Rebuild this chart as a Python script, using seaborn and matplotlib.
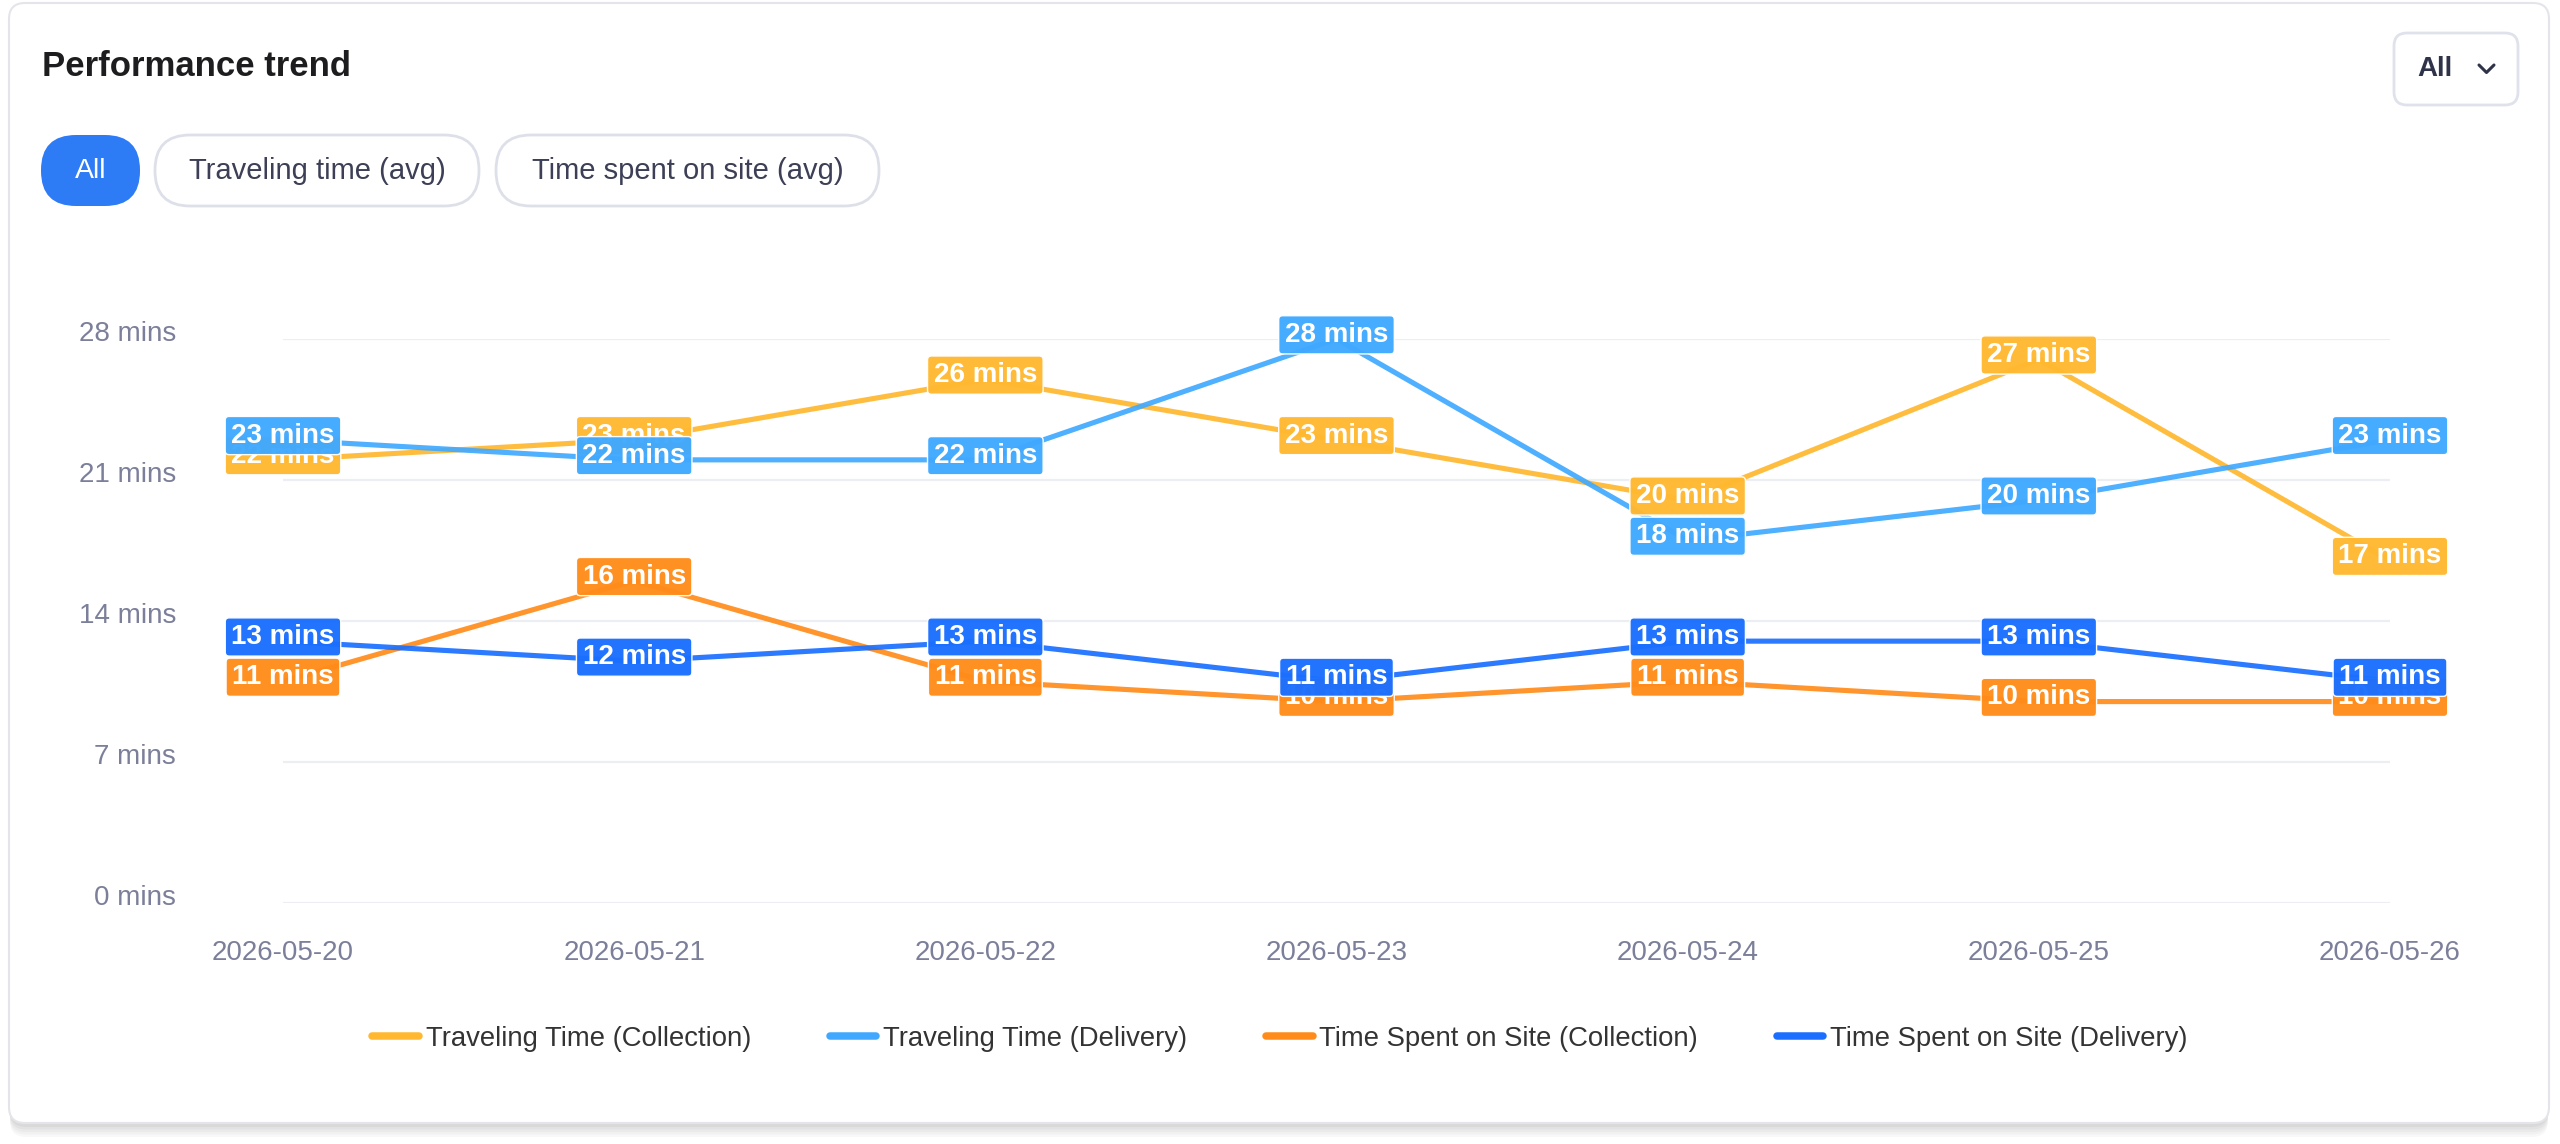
import matplotlib
matplotlib.use("Agg")
import matplotlib.pyplot as plt
import matplotlib.transforms as mtransforms
from matplotlib.patches import FancyBboxPatch
from matplotlib.lines import Line2D
import seaborn as sns
import pandas as pd

# ---------------- data ----------------
dates = ["2026-05-20", "2026-05-21", "2026-05-22", "2026-05-23",
         "2026-05-24", "2026-05-25", "2026-05-26"]
series_names = ["Traveling Time (Collection)", "Traveling Time (Delivery)",
                "Time Spent on Site (Collection)", "Time Spent on Site (Delivery)"]
traveling_collection = [22, 23, 26, 23, 20, 27, 17]
traveling_delivery = [23, 22, 22, 28, 18, 20, 23]
onsite_collection = [11, 16, 11, 10, 11, 10, 10]
onsite_delivery = [13, 12, 13, 11, 13, 13, 11]
y_ticks = [0, 7, 14, 21, 28]
title = "Performance trend"
pill_labels = ["All", "Traveling time (avg)", "Time spent on site (avg)"]
dropdown_label = "All"

series_values = [traveling_collection, traveling_delivery, onsite_collection, onsite_delivery]
colors = ["#FFB830", "#40A9FF", "#FF8C1A", "#1A6FFF"]

rows = []
for name, vals in zip(series_names, series_values):
    for d, v in zip(dates, vals):
        rows.append({"date": d, "value": v, "series": name})
df = pd.DataFrame(rows)

# ---------------- style ----------------
sns.set_theme(style="white")
plt.rcParams["font.family"] = ["Liberation Sans", "DejaVu Sans"]

W, H = 2560, 1144
fig = plt.figure(figsize=(W / 100, H / 100), dpi=100)
fig.patch.set_facecolor("white")

# background / card layer in pixel coordinates (y measured from top)
bg = fig.add_axes([0, 0, 1, 1], zorder=0)
bg.set_xlim(0, W)
bg.set_ylim(H, 0)
bg.axis("off")


def rbox(x0, y0, x1, y1, r, fc, ec="none", lw=0, z=1, alpha=1.0):
    p = FancyBboxPatch((x0 + r, y0 + r), (x1 - x0) - 2 * r, (y1 - y0) - 2 * r,
                       boxstyle=f"round,pad={r},rounding_size={r}",
                       fc=fc, ec=ec, lw=lw, zorder=z, alpha=alpha,
                       mutation_aspect=1)
    bg.add_patch(p)
    return p


# card shadow + card
for i, a in enumerate([0.05, 0.05, 0.06, 0.07, 0.08]):
    off = 14 - i * 2.5
    rbox(9 + 1, 3 + off, 2549 - 1, 1123 + off, 16, "#7a7a80", z=1, alpha=a)
rbox(9, 3, 2549, 1123, 16, "white", ec="#e4e5ea", lw=1.5, z=2)

# title
bg.text(42, 67, title, fontsize=25, fontweight="bold", color="#1d1d1f",
        ha="left", va="center", zorder=5)

# pills
pills = [(41, 140), (155, 479), (496, 879)]
for (x0, x1), lab in zip(pills, pill_labels):
    if lab == "All":
        rbox(x0, 135, x1, 206, 35, "#2E7BF6", z=3)
        bg.text((x0 + x1) / 2, 171, lab, fontsize=20.5, color="white",
                ha="center", va="center", zorder=5)
    else:
        rbox(x0, 135, x1, 206, 35, "white", ec="#dde0e9", lw=2, z=3)
        bg.text((x0 + x1) / 2, 171, lab, fontsize=21, color="#3c3f55",
                ha="center", va="center", zorder=5)

# dropdown
rbox(2394, 33, 2518, 105, 13, "white", ec="#dfe2ea", lw=2, z=3)
bg.text(2435, 69, dropdown_label, fontsize=20, fontweight="bold", color="#2f3349",
        ha="center", va="center", zorder=5)
bg.add_line(Line2D([2479, 2486.5, 2494], [65, 72.5, 65], color="#2f3349",
                   lw=2.2, solid_capstyle="round", solid_joinstyle="round", zorder=5))

# ---------------- main chart ----------------
left, right = 283 / W, 2390 / W
bottom, top = 1 - 903 / H, 1 - 339 / H
ax = fig.add_axes([left, bottom, right - left, top - bottom], zorder=3)
ax.patch.set_alpha(0)

sns.lineplot(data=df, x="date", y="value", hue="series", hue_order=series_names,
             palette=colors, sort=False, linewidth=3.7, alpha=0.92, ax=ax,
             legend=False, zorder=2)

ax.set_xlim(0, len(dates) - 1)
ax.set_ylim(0, 28)
ax.set_yticks(y_ticks)
ax.set_yticklabels([f"{v} mins" for v in y_ticks])
ax.set_xlabel("")
ax.set_ylabel("")
for s in ax.spines.values():
    s.set_visible(False)
ax.grid(False)
for v in y_ticks:
    ax.axhline(v, color="#eceef3", lw=1.6, zorder=0.5)
ax.tick_params(axis="y", length=0, pad=77, labelsize=20, labelcolor="#7b7f99")
ax.tick_params(axis="x", length=0, pad=27, labelsize=20, labelcolor="#7b7f99")
shift = mtransforms.ScaledTranslation(0, 6 / 72, fig.dpi_scale_trans)
for lab in ax.get_yticklabels():
    lab.set_transform(lab.get_transform() + shift)

# data labels
for k, (name, vals, col) in enumerate(zip(series_names, series_values, colors)):
    for i, v in enumerate(vals):
        ax.annotate(f"{v} mins", (i, v), xytext=(0, 3), textcoords="offset points",
                    ha="center", va="center", fontsize=20, fontweight="bold",
                    color="white", zorder=10 + k, annotation_clip=False,
                    bbox=dict(boxstyle="round,pad=0.22,rounding_size=0.14",
                              fc=col, ec="white", lw=1.0, alpha=0.97))

# legend
handles = [Line2D([0], [0], color=c, lw=5.4) for c in colors]
fig.legend(handles, series_names, loc="center", bbox_to_anchor=(0.5, 1 - 1039 / H),
           ncol=4, frameon=False, fontsize=19.8, handlelength=1.7,
           handletextpad=0.25, columnspacing=2.85, labelcolor="#333333")

fig.savefig("out.png", dpi=100, facecolor="white")
